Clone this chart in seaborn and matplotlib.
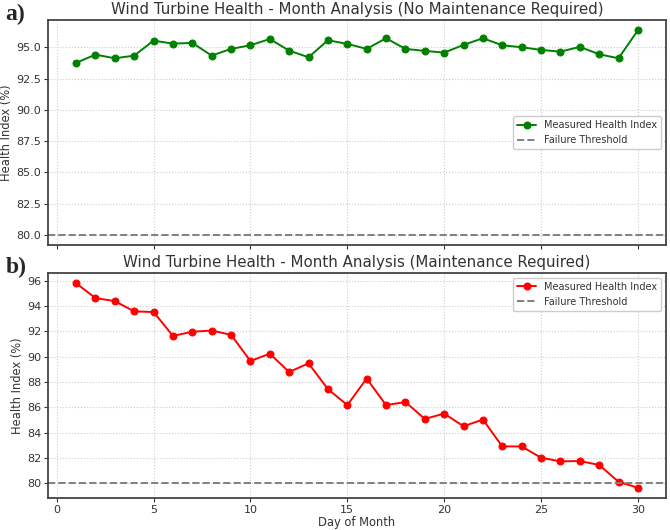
import numpy as np
import pandas as pd
import seaborn as sns
import matplotlib.pyplot as plt

# data
days = list(range(1, 31))
health_ok = [93.75, 94.41, 94.12, 94.33, 95.53, 95.29, 95.35, 94.33, 94.87, 95.16,
             95.66, 94.73, 94.20, 95.56, 95.27, 94.87, 95.72, 94.87, 94.71, 94.57,
             95.19, 95.72, 95.16, 95.00, 94.79, 94.65, 95.03, 94.44, 94.12, 96.36]
health_bad = [95.79, 94.62, 94.38, 93.57, 93.52, 91.64, 91.96, 92.06, 91.72, 89.66,
              90.23, 88.79, 89.47, 87.44, 86.18, 88.27, 86.18, 86.42, 85.09, 85.51,
              84.51, 85.04, 82.92, 82.92, 82.03, 81.74, 81.77, 81.46, 80.13, 79.66]
threshold = 80
titles = ["Wind Turbine Health - Month Analysis (No Maintenance Required)",
          "Wind Turbine Health - Month Analysis (Maintenance Required)"]
panel_tags = ["a)", "b)"]
x_ticks = [0, 5, 10, 15, 20, 25, 30]
y_ticks_ok = [80.0, 82.5, 85.0, 87.5, 90.0, 92.5, 95.0]
y_ticks_bad = [80, 82, 84, 86, 88, 90, 92, 94, 96]

sns.set_style("whitegrid", {"grid.linestyle": ":", "grid.color": "#cccccc",
                            "axes.edgecolor": "#333333"})
plt.rcParams['font.family'] = ['DejaVu Sans']

df = pd.DataFrame({"day": days, "ok": health_ok, "bad": health_bad})

fig = plt.figure(figsize=(6.7, 5.3), dpi=100)
ax1 = fig.add_axes([0.0716, 0.5377, 0.9224, 0.4245])
ax2 = fig.add_axes([0.0716, 0.0604, 0.9224, 0.4245], sharex=ax1)

for ax, col, color, title, tag, loc in [
        (ax1, "ok", "green", titles[0], panel_tags[0], "center right"),
        (ax2, "bad", "red", titles[1], panel_tags[1], "upper right")]:
    sns.lineplot(data=df, x="day", y=col, ax=ax, color=color, marker="o",
                 markersize=5, markeredgecolor=color, linewidth=1.4,
                 label="Measured Health Index")
    ax.axhline(threshold, color="gray", linestyle="--", linewidth=1.4,
               label="Failure Threshold")
    ax.set_title(title, fontsize=10.8, color="#333333", pad=4)
    ax.set_ylabel("Health Index (%)", fontsize=8.3, color="#333333", labelpad=2)
    ax.set_xlabel("")
    ax.tick_params(labelsize=8, colors="#333333", length=3, width=0.8, pad=2,
                   direction="out", bottom=True, left=True)
    for s in ax.spines.values():
        s.set_linewidth(1.3)
        s.set_color("#444444")
    leg = ax.legend(loc=loc, fontsize=7, frameon=True, fancybox=True,
                    edgecolor="#cccccc", framealpha=1, handlelength=2)
    for t in leg.get_texts():
        t.set_color("#333333")
    fig.text(0.008, ax.get_position().y1 + 0.01, tag, fontsize=17,
             fontweight="bold", family="Liberation Serif", va="center")

ax1.tick_params(labelbottom=False)
ax1.set_yticks(y_ticks_ok)
ax1.set_yticklabels([f"{v:.1f}" for v in y_ticks_ok])
ax2.set_yticks(y_ticks_bad)
ax2.set_xticks(x_ticks)
ax2.set_xlabel("Day of Month", fontsize=8.3, color="#333333", labelpad=1)

fig.savefig("out.png", dpi=100)
